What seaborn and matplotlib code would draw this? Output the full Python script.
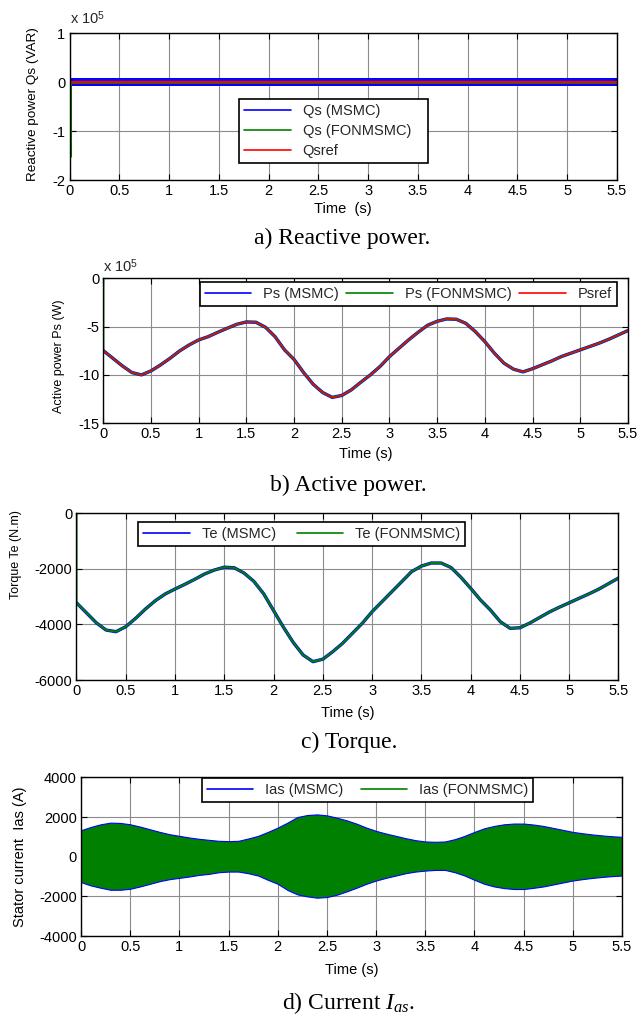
import matplotlib
matplotlib.use("Agg")
import matplotlib.pyplot as plt
from matplotlib import font_manager
from matplotlib.lines import Line2D
import seaborn as sns

# time samples (s)
t = [0.0, 0.1, 0.2, 0.3, 0.4, 0.5, 0.6, 0.7, 0.8, 0.9,
     1.0, 1.1, 1.2, 1.3, 1.4, 1.5, 1.6, 1.7, 1.8, 1.9,
     2.0, 2.1, 2.2, 2.3, 2.4, 2.5, 2.6, 2.7, 2.8, 2.9,
     3.0, 3.1, 3.2, 3.3, 3.4, 3.5, 3.6, 3.7, 3.8, 3.9,
     4.0, 4.1, 4.2, 4.3, 4.4, 4.5, 4.6, 4.7, 4.8, 4.9,
     5.0, 5.1, 5.2, 5.3, 5.4, 5.5]

# a) reactive power (x 1e5 VAR)
qs_t = [0.0, 5.5]
qs_msmc_upper = [0.08, 0.08]
qs_msmc_lower = [-0.075, -0.075]
qs_fon_t = [0.0, 0.0, 5.5]
qs_fon = [-1.5, 0.0, 0.0]
qs_ref = [0.0, 0.0]

# b) active power (x 1e5 W)
ps = [-7.48, -8.27, -9.06, -9.75, -9.99, -9.58, -8.96, -8.27, -7.51, -6.89,
      -6.37, -6.03, -5.58, -5.16, -4.75, -4.51, -4.54, -5.06, -6.03, -7.40,
      -8.40, -9.75, -10.96, -11.82, -12.32, -12.12, -11.54, -10.75, -9.99, -9.13,
      -8.10, -7.23, -6.37, -5.58, -4.85, -4.44, -4.20, -4.23, -4.65, -5.51,
      -6.55, -7.75, -8.78, -9.40, -9.68, -9.35, -8.95, -8.55, -8.10, -7.75,
      -7.40, -7.05, -6.70, -6.30, -5.85, -5.40]
ps_start = 0.0

# c) torque (N.m)
te = [-3220, -3578, -3938, -4201, -4262, -4082, -3780, -3445, -3146, -2905,
      -2725, -2556, -2376, -2185, -2041, -1940, -1960, -2150, -2450, -2900,
      -3500, -4100, -4650, -5101, -5340, -5250, -4982, -4680, -4320, -3960,
      -3542, -3182, -2822, -2462, -2102, -1900, -1790, -1790, -1950, -2300,
      -2700, -3120, -3480, -3900, -4140, -4120, -3950, -3750, -3550, -3380,
      -3220, -3060, -2900, -2730, -2530, -2330]
te_start = 0.0

# d) stator current envelope (A)
ias_upper = [1333, 1500, 1633, 1717, 1700, 1633, 1517, 1383, 1250, 1133,
             1050, 967, 900, 850, 800, 783, 800, 917, 1050, 1250,
             1467, 1720, 2000, 2100, 2133, 2083, 1967, 1833, 1667, 1467,
             1300, 1167, 1050, 933, 833, 767, 750, 767, 883, 1050,
             1250, 1433, 1550, 1633, 1670, 1670, 1620, 1550, 1450, 1350,
             1250, 1180, 1120, 1070, 1030, 1000]
ias_lower = [-1283, -1450, -1567, -1667, -1667, -1617, -1500, -1367, -1233, -1133,
             -1067, -1000, -917, -867, -783, -750, -750, -833, -950, -1167,
             -1367, -1680, -1900, -2000, -2067, -2033, -1917, -1750, -1567, -1367,
             -1200, -1067, -950, -833, -750, -700, -667, -667, -783, -950,
             -1167, -1367, -1500, -1583, -1630, -1630, -1570, -1500, -1400, -1300,
             -1200, -1130, -1070, -1020, -980, -950]

xticks = [0, 0.5, 1, 1.5, 2, 2.5, 3, 3.5, 4, 4.5, 5, 5.5]
xtick_labels = ["0", "0.5", "1", "1.5", "2", "2.5", "3", "3.5", "4", "4.5", "5", "5.5"]

BLUE = "#0000ff"
GREEN = "#008000"
RED = "#ff0000"

sns.set_theme(style="ticks")
names = {f.name for f in font_manager.fontManager.ttflist}
narrow = "Liberation Sans Narrow" if "Liberation Sans Narrow" in names else "Liberation Sans"
plt.rcParams["font.family"] = [narrow, "DejaVu Sans"]
plt.rcParams["mathtext.fontset"] = "custom"
plt.rcParams["mathtext.rm"] = "Liberation Sans"
plt.rcParams["mathtext.it"] = "Liberation Serif:italic"

fig = plt.figure(figsize=(6.4, 10.16), dpi=100)


def setup(ax, ylim, yticks, ylabel, ylab_pos, ylab_size, xlabel, xlab_y):
    ax.set_xlim(0, 5.5)
    ax.set_ylim(*ylim)
    ax.set_xticks(xticks)
    ax.set_xticklabels(xtick_labels)
    ax.set_yticks(yticks)
    ax.set_yticklabels([str(v) for v in yticks])
    ax.grid(True, color="0.55", lw=0.8)
    ax.tick_params(direction="in", top=True, right=True, length=4, width=0.8,
                   color="black", labelsize=10.5, labelcolor="black", pad=3)
    for s in ax.spines.values():
        s.set_color("black")
        s.set_linewidth(1.0)
        s.set_visible(True)
    ax.set_xlabel(xlabel, fontsize=10.5, color="black")
    ax.xaxis.set_label_coords(0.5, xlab_y)
    ax.xaxis.label.set_verticalalignment("center")
    ax.set_ylabel(ylabel, fontsize=ylab_size, color="black", family="Liberation Sans")
    ax.yaxis.set_label_coords(*ylab_pos)
    ax.yaxis.label.set_verticalalignment("center")
    ax.set_facecolor("white")


def legend(ax, handles, labels, x0, top, w, ncol, spacing=0.25):
    leg = ax.legend(handles, labels, loc="upper left",
                    bbox_to_anchor=(x0, top - 0.1, w, 0.1),
                    mode="expand", ncol=ncol, borderaxespad=0, fontsize=10.5,
                    handlelength=3.2, handletextpad=0.8, columnspacing=1.5,
                    labelspacing=spacing, borderpad=0.35, fancybox=False,
                    framealpha=1, edgecolor="black")
    leg.get_frame().set_linewidth(1.2)
    return leg


def handle(c):
    return Line2D([], [], color=c, lw=1.2)


# a) Reactive power
ax = fig.add_axes([0.1086, 0.8228, 0.8555, 0.1447])
ax.fill_between(qs_t, qs_msmc_lower, qs_msmc_upper, color=BLUE, lw=0)
sns.lineplot(x=qs_fon_t, y=qs_fon, ax=ax, color=GREEN, lw=2.2,
             estimator=None, sort=False)
sns.lineplot(x=qs_t, y=qs_ref, ax=ax, color=RED, lw=1.6)
setup(ax, (-2, 1), [-2, -1, 0, 1], "Reactive power Qs (VAR)", (-0.067, 0.514), 9.7,
      "Time  (s)", -0.197)
legend(ax, [handle(BLUE), handle(GREEN), handle(RED)],
       ["Qs (MSMC)", "Qs (FONMSMC)", "Qsref"], 0.31, 0.551, 0.344, 1, spacing=0.4)
ax.text(0.0, 1.04, "x 10$^{5}$", transform=ax.transAxes, ha="left", va="bottom",
        fontsize=10.5)

# b) Active power
ax = fig.add_axes([0.1614, 0.5834, 0.8198, 0.1426])
sns.lineplot(x=t, y=ps, ax=ax, color=BLUE, lw=2.4)
sns.lineplot(x=[0.0] + t, y=[ps_start] + ps, ax=ax, color=GREEN, lw=1.6,
             estimator=None, sort=False)
sns.lineplot(x=t, y=ps, ax=ax, color=RED, lw=1.0)
setup(ax, (-15, 0), [-15, -10, -5, 0], "Active power Ps (W)", (-0.084, 0.46), 9.0,
      "Time (s)", -0.212)
legend(ax, [handle(BLUE), handle(GREEN), handle(RED)],
       ["Ps (MSMC)", "Ps (FONMSMC)", "Psref"], 0.1835, 0.977, 0.7955, 3)
ax.text(0.0, 1.023, "x 10$^{5}$", transform=ax.transAxes, ha="left", va="bottom",
        fontsize=10.5)

# c) Torque
ax = fig.add_axes([0.1195, 0.3307, 0.8469, 0.1641])
sns.lineplot(x=t, y=te, ax=ax, color=BLUE, lw=2.4)
sns.lineplot(x=[0.0] + t, y=[te_start] + te, ax=ax, color=GREEN, lw=1.5,
             estimator=None, sort=False)
setup(ax, (-6000, 0), [-6000, -4000, -2000, 0], "Torque Te (N.m)", (-0.112, 0.75), 9.0,
      "Time (s)", -0.198)
legend(ax, [handle(BLUE), handle(GREEN)],
       ["Te (MSMC)", "Te (FONMSMC)"], 0.114, 0.948, 0.603, 2)

# d) Stator current
ax = fig.add_axes([0.1266, 0.0787, 0.8453, 0.1562])
ax.fill_between(t, ias_lower, ias_upper, facecolor=GREEN, edgecolor=BLUE, lw=0.8)
setup(ax, (-4000, 4000), [-4000, -2000, 0, 2000, 4000], "Stator current  Ias (A)",
      (-0.113, 0.5), 10.5, "Time (s)", -0.214)
legend(ax, [handle(BLUE), handle(GREEN)],
       ["Ias (MSMC)", "Ias (FONMSMC)"], 0.223, 0.996, 0.613, 2)

# captions
cap = dict(ha="center", va="center", fontsize=17, family="Liberation Serif", color="black")
fig.text(0.534, 1 - 238 / 1016, "a) Reactive power.", **cap)
fig.text(0.544, 1 - 485 / 1016, "b) Active power.", **cap)
fig.text(0.545, 1 - 742 / 1016, "c) Torque.", **cap)
fig.text(0.544, 1 - 1003 / 1016, "d) Current $I_{as}$.", **cap)

fig.savefig("out.png", dpi=100, facecolor="white")
